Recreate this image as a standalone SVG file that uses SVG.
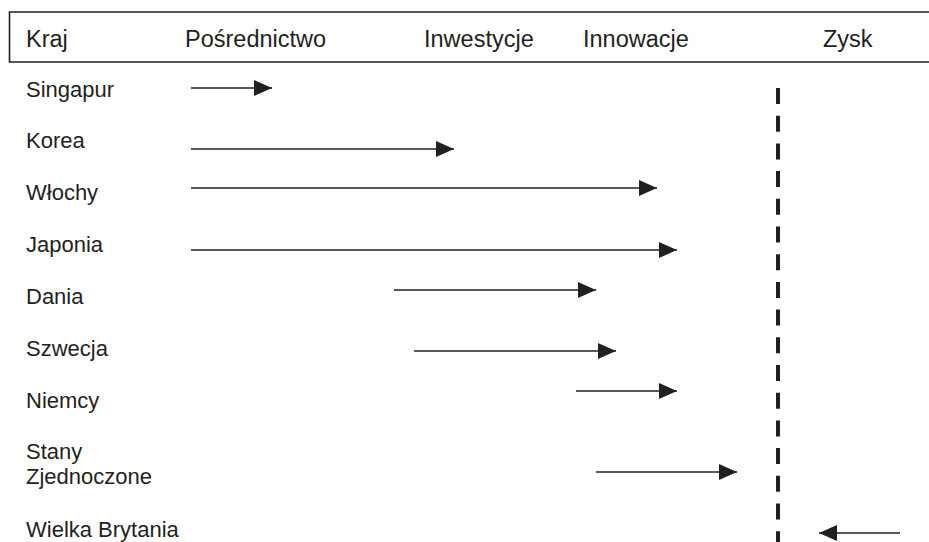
<svg xmlns="http://www.w3.org/2000/svg" width="929" height="542" viewBox="0 0 929 542">
<style>
text{font-family:"Liberation Sans",Arial,sans-serif;fill:#231f20}
.h{font-size:23.5px}
.r{font-size:22px}
.a{stroke:#231f20;stroke-width:1.6;fill:none}
</style>
<defs>
<marker id="ah" markerUnits="userSpaceOnUse" markerWidth="18" markerHeight="16" refX="18" refY="8" orient="auto">
<path d="M0,0 L18,8 L0,16 Z" fill="#231f20"/>
</marker>
</defs>
<rect width="929" height="542" fill="#fff"/>
<g id="header">
<path d="M935,12 H9.5 V62 H935" fill="none" stroke="#231f20" stroke-width="1.6"/>
<text class="h" x="26" y="47">Kraj</text>
<text class="h" x="185" y="47">Pośrednictwo</text>
<text class="h" x="424" y="47">Inwestycje</text>
<text class="h" x="583" y="47">Innowacje</text>
<text class="h" x="823" y="47">Zysk</text>
</g>
<g id="singapur"><text class="r" x="26" y="97">Singapur</text></g>
<g id="korea"><text class="r" x="26" y="148">Korea</text></g>
<g id="wlochy"><text class="r" x="26" y="200">Włochy</text></g>
<g id="japonia"><text class="r" x="26" y="252">Japonia</text></g>
<g id="dania"><text class="r" x="26" y="304">Dania</text></g>
<g id="szwecja"><text class="r" x="26" y="356">Szwecja</text></g>
<g id="niemcy"><text class="r" x="26" y="408">Niemcy</text></g>
<g id="usa"><text class="r" x="26" y="459">Stany</text><text class="r" x="26" y="484">Zjednoczone</text></g>
<g id="uk"><text class="r" x="26" y="537">Wielka Brytania</text></g>
<g id="zysk-line"><line x1="778" y1="88" x2="778" y2="542" stroke="#231f20" stroke-width="4" stroke-dasharray="16 11.7"/></g>
<g id="connectors">
<line class="a" x1="191" y1="88" x2="272" y2="88" marker-end="url(#ah)"/>
<line class="a" x1="191" y1="149" x2="454" y2="149" marker-end="url(#ah)"/>
<line class="a" x1="191" y1="188" x2="657" y2="188" marker-end="url(#ah)"/>
<line class="a" x1="191" y1="250" x2="677" y2="250" marker-end="url(#ah)"/>
<line class="a" x1="394" y1="290" x2="596" y2="290" marker-end="url(#ah)"/>
<line class="a" x1="414" y1="351" x2="616" y2="351" marker-end="url(#ah)"/>
<line class="a" x1="576" y1="391" x2="677" y2="391" marker-end="url(#ah)"/>
<line class="a" x1="596" y1="472" x2="737" y2="472" marker-end="url(#ah)"/>
<line class="a" x1="900" y1="533" x2="819" y2="533" marker-end="url(#ah)"/>
</g>
</svg>
